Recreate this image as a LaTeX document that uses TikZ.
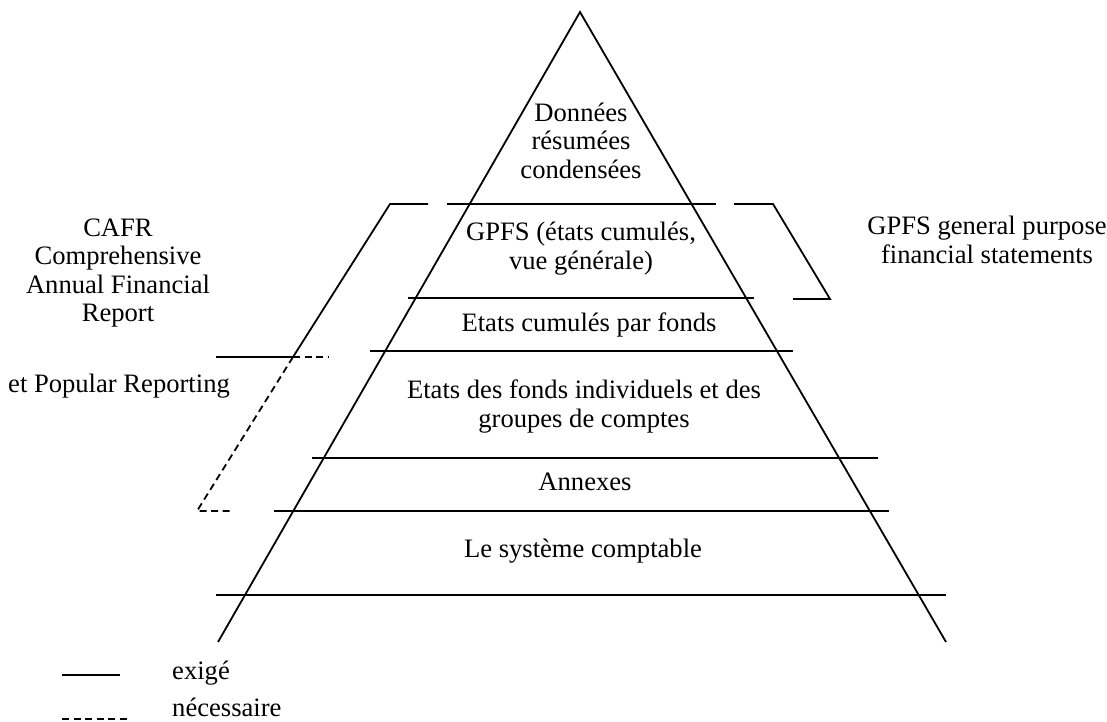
\documentclass[tikz,border=0pt]{standalone}
\usepackage{fontspec}
\setmainfont{Liberation Serif}
\begin{document}
\begin{tikzpicture}[x=1pt,y=-1pt,
  ln/.style={line width=1.8pt},
  dl/.style={line width=1.8pt,dash pattern=on 7pt off 4.5pt},
  txt/.style={inner sep=0pt,anchor=base,align=center,font=\fontsize{26.6}{28.4}\selectfont},
  txtl/.style={txt,anchor=base west,align=left}]
\useasboundingbox (0,0) rectangle (1107,721);
% pyramid
\coordinate (apex) at (580,12);
\coordinate (bl) at (218,642);
\coordinate (br) at (946,642);
\draw[ln] (bl) -- (apex) -- (br);
% layer lines
\coordinate (l1a) at (447,204); \coordinate (l1b) at (716,204);
\coordinate (l2a) at (408,298); \coordinate (l2b) at (754,298);
\coordinate (l3a) at (370,351); \coordinate (l3b) at (793,351);
\coordinate (l4a) at (312,458); \coordinate (l4b) at (878,458);
\coordinate (l5a) at (274,511); \coordinate (l5b) at (889,511);
\coordinate (l6a) at (216,595); \coordinate (l6b) at (946,595);
\draw[ln] (l1a) -- (l1b);
\draw[ln] (l2a) -- (l2b);
\draw[ln] (l3a) -- (l3b);
\draw[ln] (l4a) -- (l4b);
\draw[ln] (l5a) -- (l5b);
\draw[ln] (l6a) -- (l6b);
% left bracket (CAFR)
\coordinate (c1) at (428,204);
\coordinate (c2) at (390,204);
\coordinate (c3) at (293,357);
\coordinate (c4) at (197,511);
\coordinate (c5) at (232,511);
\coordinate (m1) at (216,357);
\coordinate (m2) at (328,357);
\draw[ln] (c1) -- (c2) -- (c3);
\draw[dl] (c3) -- (c4) -- (c5);
\draw[ln] (m1) -- (c3);
\draw[dl] (c3) -- (m2);
% right bracket (GPFS)
\coordinate (r1) at (734,204);
\coordinate (r2) at (773,204);
\coordinate (r3) at (830,299);
\coordinate (r4) at (793,299);
\draw[ln] (r1) -- (r2) -- (r3) -- (r4);
% pyramid texts (anchor at baseline of last line)
\node[txt] (t1) at (581,178.3) {Données\\résumées\\condensées};
\node[txt] (t2) at (581,269.3) {GPFS (états cumulés,\\vue générale)};
\node[txt] (t3) at (589,331.7) {Etats cumulés par fonds};
\node[txt] (t4) at (584,427.3) {Etats des fonds individuels et des\\groupes de comptes};
\node[txt] (t5) at (585,490) {Annexes};
\node[txt] (t6) at (583,557) {Le système comptable};
% side texts
\node[txt] (cafr) at (118,321.6) {CAFR\\Comprehensive\\Annual Financial\\Report};
\node[txtl] (pop) at (8,392) {et Popular Reporting};
\node[txt] (gpfs) at (987,263) {GPFS general purpose\\financial statements};
% legend
\coordinate (s1) at (62,675); \coordinate (s2) at (120,675);
\coordinate (d1) at (62,719); \coordinate (d2) at (130,719);
\draw[ln] (s1) -- (s2);
\draw[dl] (d1) -- (d2);
\node[txtl] (lex) at (172,679) {exigé};
\node[txtl] (lnec) at (172,716) {nécessaire};
\end{tikzpicture}
\end{document}
